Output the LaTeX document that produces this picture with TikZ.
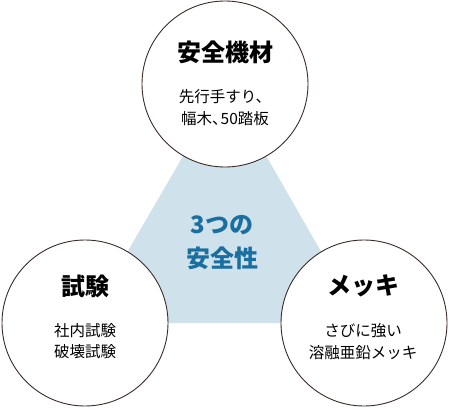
\documentclass[tikz,border=0pt]{standalone}
\usepackage{fontspec}
\setmainfont{Noto Sans CJK JP}
\definecolor{trifill}{HTML}{CFE2EC}
\definecolor{centerblue}{HTML}{1B6FA0}
\definecolor{ringline}{HTML}{3B2C28}
\begin{document}
\begin{tikzpicture}[x=1pt,y=-1pt,
  ring/.style={circle, draw=ringline, line width=0.9pt, fill=white, minimum size=166pt, inner sep=0pt},
  title/.style={font=\fontsize{24}{28}\selectfont\bfseries, text=black, inner sep=0pt},
  sub/.style={font=\fontsize{15.5}{21.5}\selectfont, align=center, text=black, inner sep=0pt},
  centertext/.style={font=\fontsize{24}{34}\selectfont\bfseries, align=center, text=centerblue, inner sep=0pt}]
\useasboundingbox (0,0) rectangle (449,409);
\coordinate (ta) at (225,84);
\coordinate (tb) at (86,323);
\coordinate (tc) at (362,323);
\fill[trifill] (ta) -- (tb) -- (tc) -- cycle;
\node[ring] (top) at (225,84) {};
\node[ring] (left) at (85,323) {};
\node[ring] (right) at (364,323) {};
\node[centertext] (core) at (222,243) {3つの\\安全性};
\node[title] (toptitle) at (225,52) {安全機材};
\node[sub] (topsub) at (225,107.5) {先行手すり、\\幅木、\kern-0.45em 50踏板};
\node[title] (lefttitle) at (85,286) {試験};
\node[sub] (leftsub) at (85,341) {社内試験\\破壊試験};
\node[title] (righttitle) at (363,286) {メッキ};
\node[sub] (rightsub) at (363,341.5) {さびに強い\\溶融亜鉛メッキ};
\end{tikzpicture}
\end{document}
